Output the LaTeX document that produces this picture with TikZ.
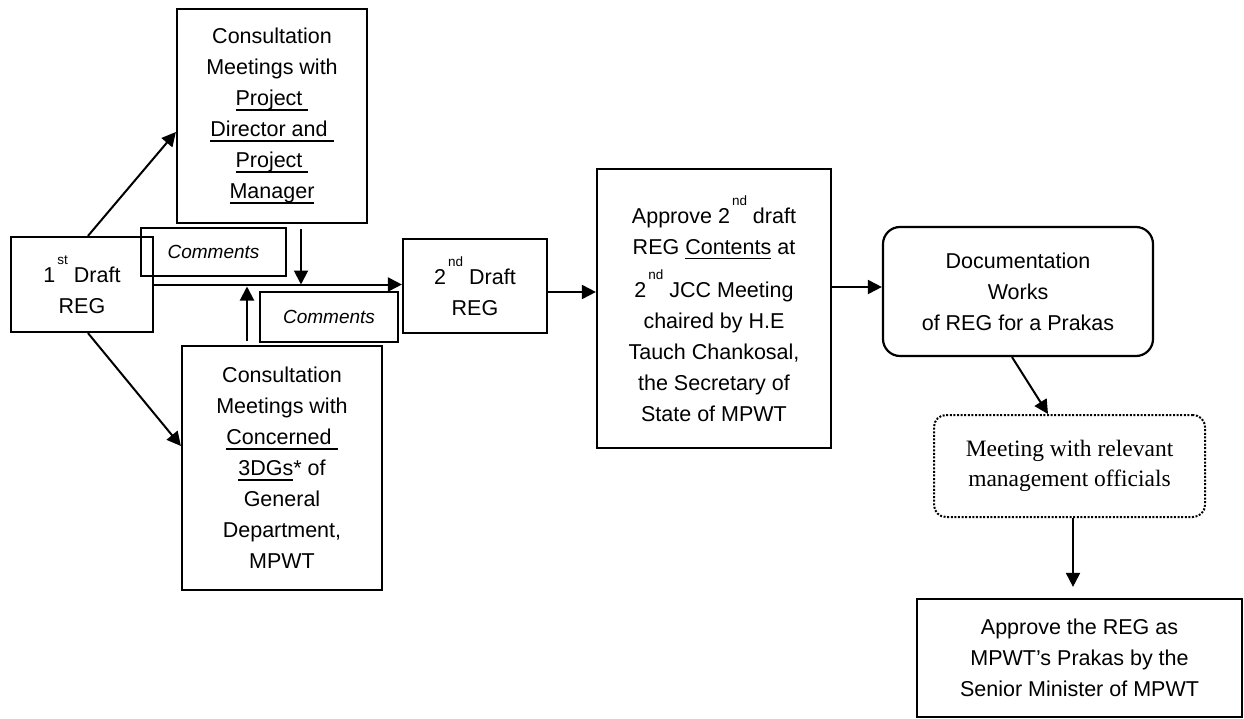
\documentclass[tikz,border=0pt]{standalone}
\usepackage{fontspec}
\setmainfont{Liberation Sans}
\newfontfamily\serifm{Liberation Serif}
\usetikzlibrary{arrows.meta}
\newcommand\sps[1]{\raisebox{18pt}{\fontsize{13.5}{14}\selectfont #1}}
\newcommand\myul[1]{\setbox0\hbox{#1}\rlap{\rule[-5pt]{\wd0}{1.5pt}}\box0\relax}
\begin{document}
\begin{tikzpicture}[x=1pt,y=-1pt,
  box/.style={draw, line width=2.2pt, align=center, inner sep=0pt, font=\fontsize{21.5}{31}\selectfont},
  cbox/.style={draw, line width=2.2pt, inner sep=0pt, font=\fontsize{19}{22}\selectfont\itshape},
  rbox/.style={box, rounded corners=17pt},
  dbox/.style={draw, line width=2pt, dash pattern=on 2pt off 1.6pt, rounded corners=12pt, align=center, inner sep=0pt, font=\serifm\fontsize{23.5}{30}\selectfont},
  arr/.style={line width=2pt, -{Triangle[length=14pt,width=14pt]}}
]
\useasboundingbox (0,0) rectangle (1244,719);

\node[box, minimum width=142pt, minimum height=95pt] (d1) at (82,284.5)
  {1\hspace{2pt}\sps{st} Draft\\REG};
\node[box, minimum width=190pt, minimum height=214pt] (pd) at (272,116)
  {Consultation\\Meetings with\\\myul{Project\ }\\\myul{Director and\ }\\\myul{Project\ }\\\myul{Manager}};
\node[box, minimum width=200pt, minimum height=244pt] (cg) at (282,468)
  {Consultation\\Meetings with\\\myul{Concerned\ }\\\myul{3DGs}* of\\General\\Department,\\MPWT};
\node[cbox, minimum width=145pt, minimum height=48pt] (c1) at (213.5,252) {Comments};
\node[cbox, minimum width=138pt, minimum height=50pt] (c2) at (329,317) {Comments};
\node[box, minimum width=144pt, minimum height=94pt] (d2) at (475,286)
  {2\hspace{2pt}\sps{nd} Draft\\REG};
\node[box, minimum width=234pt, minimum height=279pt] (ap) at (714,308.5)
  {Approve 2\hspace{2pt}\sps{nd} draft\\REG \myul{Contents} at\\[9pt]2\hspace{2pt}\sps{nd} JCC Meeting\\chaired by H.E\\Tauch Chankosal,\\the Secretary of\\State of MPWT};
\node[rbox, minimum width=270pt, minimum height=129pt] (doc) at (1018,291.5)
  {Documentation\\Works\\of REG for a Prakas};
\node[dbox, minimum width=271pt, minimum height=102pt] (mt) at (1069.5,466)
  {Meeting with relevant\\management officials};
\node[box, minimum width=325pt, minimum height=118pt] (fin) at (1079.5,658)
  {Approve the REG as\\MPWT’s Prakas by the\\Senior Minister of MPWT};

\draw[arr] ([xshift=6pt]d1.north) -- ([yshift=-16pt]pd.west);
\draw[arr] ([xshift=6pt]d1.south) -- ([yshift=22pt]cg.west);
\draw[arr] (d1.east) -- (d1.east -| d2.west);
\coordinate (pdd) at ([xshift=29pt,yshift=-5pt]pd.south);
\draw[arr] (pdd) -- (pdd |- d1.east);
\coordinate (cgu) at ([xshift=-35pt,yshift=4pt]cg.north);
\draw[arr] (cgu) -- ([yshift=-2pt]cgu |- d1.east);
\coordinate (d2e) at ([yshift=-6pt]d2.east);
\draw[arr] (d2e) -- (d2e -| ap.west);
\coordinate (dw) at ([yshift=4.5pt]doc.west);
\draw[arr] (dw -| ap.east) -- (dw);
\draw[arr] ([xshift=-6pt]doc.south) -- ([xshift=-21.5pt]mt.north);
\coordinate (ms) at ([xshift=3.5pt]mt.south);
\draw[arr] (ms) -- ([yshift=11pt]ms |- fin.north);
\end{tikzpicture}
\end{document}
